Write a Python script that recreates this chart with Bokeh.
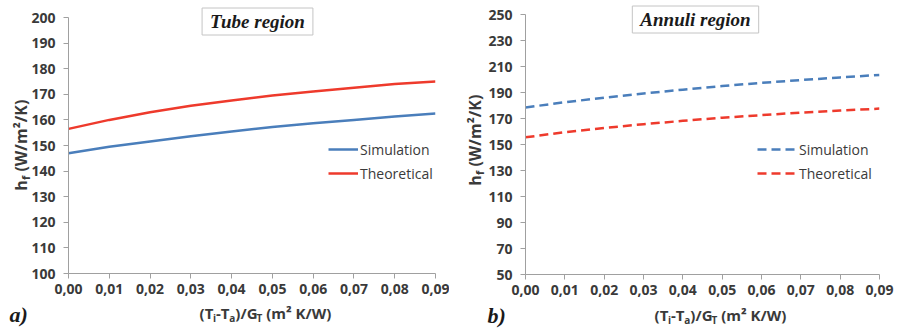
import math
from bokeh.plotting import figure
from bokeh.models import (Range1d, FixedTicker, CustomJSTickFormatter, Label,
                          Legend, LegendItem, GridBox)
from bokeh.embed import file_html
from bokeh.resources import INLINE

# ---------------- data ----------------
x_vals = [0.00, 0.01, 0.02, 0.03, 0.04, 0.05, 0.06, 0.07, 0.08, 0.09]
tube_simulation = [147.0, 149.5, 151.6, 153.6, 155.5, 157.2, 158.7, 160.0, 161.3, 162.5]
tube_theoretical = [156.5, 160.0, 163.0, 165.5, 167.6, 169.5, 171.1, 172.6, 174.0, 175.0]
annuli_simulation = [178.5, 182.5, 186.0, 189.2, 192.2, 195.0, 197.4, 199.6, 201.6, 203.5]
annuli_theoretical = [155.5, 159.5, 162.7, 165.6, 168.2, 170.6, 172.6, 174.5, 176.1, 177.6]
x_ticks = [0.00, 0.01, 0.02, 0.03, 0.04, 0.05, 0.06, 0.07, 0.08, 0.09]
tube_y_ticks = [100, 110, 120, 130, 140, 150, 160, 170, 180, 190, 200]
annuli_y_ticks = [50, 70, 90, 110, 130, 150, 170, 190, 210, 230, 250]
series_names = ["Simulation", "Theoretical"]
panel_titles = ["Tube region", "Annuli region"]
panel_letters = ["a)", "b)"]

BLUE = "#4A7EBB"
RED = "#EE3A2C"
TXT = "#3a3a3a"
AXIS = "#a0a0a0"
CW_TOTAL, CH_TOTAL = 898, 328

# approx Open Sans Bold advance widths (em)
CW = {"(": 0.332, ")": 0.332, "T": 0.568, "-": 0.322, "/": 0.37, "G": 0.713,
      " ": 0.26, "m": 0.928, "K": 0.655, "W": 0.979, "²": 0.36, "i": 0.285,
      "a": 0.604, "f": 0.385, "h": 0.668, "2": 0.572}


def twidth(text, size):
    return sum(CW.get(c, 0.56) for c in text) * size


def place_run(ov, pieces, ccx, ccy, vertical):
    """Place a run of text pieces centred at canvas point (ccx, ccy)."""
    total = sum(twidth(t, s) for t, s, _ in pieces)
    pos = -total / 2.0
    for text, size, shift in pieces:
        lead = len(text) - len(text.lstrip(" "))
        pos += twidth(" " * lead, size)
        body = text.strip(" ")
        if vertical:
            sx, sy = ccx + shift, ccy - pos
        else:
            sx, sy = ccx + pos, ccy + shift
        ov.add_layout(Label(x=sx, y=CH_TOTAL - sy, x_units="screen", y_units="screen",
                            text=body, angle=math.pi / 2 if vertical else 0,
                            text_align="left", text_baseline="middle",
                            text_font="Open Sans", text_font_style="bold",
                            text_font_size=f"{size}px", text_color=TXT))
        pos += twidth(body, size)


def make_panel(sim, theo, yticks, dash, frame, legend_loc, glyph_w):
    L, R, T, B = frame  # canvas coords of the frame inside the panel
    W, H = 449, 328
    p = figure(width=W, height=H, output_backend="svg", toolbar_location=None,
               x_range=Range1d(x_ticks[0], x_ticks[-1]),
               y_range=Range1d(yticks[0], yticks[-1]),
               min_border_left=L, min_border_right=W - R,
               min_border_top=T, min_border_bottom=H - B)
    p.frame_align = False
    p.outline_line_color = None
    p.xgrid.visible = False
    p.ygrid.visible = False
    p.background_fill_color = "white"
    p.border_fill_color = "white"

    for ax in (p.xaxis[0], p.yaxis[0]):
        ax.axis_line_color = AXIS
        ax.major_tick_line_color = AXIS
        ax.major_tick_in = 0
        ax.major_tick_out = 5
        ax.minor_tick_line_color = None
        ax.major_label_text_font = "Open Sans"
        ax.major_label_text_font_style = "bold"
        ax.major_label_text_font_size = "14px"
        ax.major_label_text_color = TXT
    p.xaxis.ticker = FixedTicker(ticks=x_ticks)
    p.xaxis.formatter = CustomJSTickFormatter(
        code="return tick.toFixed(2).replace('.', ',');")
    p.xaxis.major_label_standoff = 5
    p.yaxis.ticker = FixedTicker(ticks=yticks)
    p.yaxis.major_label_standoff = 8

    r1 = p.line(x_vals, sim, line_color=BLUE, line_width=2.5, line_dash=dash)
    r2 = p.line(x_vals, theo, line_color=RED, line_width=2.5, line_dash=dash)

    leg = Legend(items=[LegendItem(label=series_names[0], renderers=[r1]),
                        LegendItem(label=series_names[1], renderers=[r2])],
                 location=legend_loc, glyph_width=glyph_w, glyph_height=20,
                 label_height=20, label_standoff=2, spacing=4, padding=0,
                 margin=0, border_line_color=None, background_fill_alpha=0,
                 label_text_font="Open Sans", label_text_font_size="14px",
                 label_text_color=TXT)
    p.add_layout(leg)
    return p


p1 = make_panel(tube_simulation, tube_theoretical, tube_y_ticks, "solid",
                (68, 435, 17, 273), (260, 90), 30)
p2 = make_panel(annuli_simulation, annuli_theoretical, annuli_y_ticks, "9 5",
                (76, 430, 14, 274), (232, 91), 40)

# transparent overlay for texts that sit outside the plot frames
ov = figure(width=CW_TOTAL, height=CH_TOTAL, output_backend="svg",
            toolbar_location=None, x_axis_type=None, y_axis_type=None,
            x_range=Range1d(0, 1), y_range=Range1d(0, 1),
            min_border_left=0, min_border_right=0, min_border_top=0,
            min_border_bottom=0)
ov.frame_align = False
ov.outline_line_color = None
ov.background_fill_color = None
ov.border_fill_color = None
ov.xgrid.visible = False
ov.ygrid.visible = False

title_centres = [(257, 21), (449 + 246, 19)]
letter_pos = [(9, 314), (449 + 38, 315)]
ylab_centres = [(20, 146), (449 + 25, 141)]
xlab_centres = [(264, 312), (449 + 270, 314)]

for i in range(2):
    tc = title_centres[i]
    ov.add_layout(Label(x=tc[0], y=CH_TOTAL - tc[1], x_units="screen",
                        y_units="screen", text=panel_titles[i], text_align="center",
                        text_baseline="middle", text_font="Liberation Serif",
                        text_font_style="bold italic", text_font_size="19px",
                        text_color="#1a1a1a", border_line_color="#c4c4c4",
                        border_line_width=1, background_fill_color="white",
                        padding=(8, 3)))
    lp = letter_pos[i]
    ov.add_layout(Label(x=lp[0], y=CH_TOTAL - lp[1], x_units="screen",
                        y_units="screen", text=panel_letters[i], text_align="left",
                        text_baseline="middle", text_font="Liberation Serif",
                        text_font_style="bold italic", text_font_size="22px",
                        text_color="#1a1a1a"))
    ylab = [("h", 16, 0), ("f", 11, 5), (" (W/m²/K)", 16, 0)]
    place_run(ov, ylab, ylab_centres[i][0], ylab_centres[i][1], True)
    xlab = [("(T", 15, 0), ("i", 10, 5), ("-T", 15, 0), ("a", 10, 5),
            (")/G", 15, 0), ("T", 10, 5), (" (m² K/W)", 15, 0)]
    place_run(ov, xlab, xlab_centres[i][0], xlab_centres[i][1], False)

layout = GridBox(children=[(p1, 0, 0), (p2, 0, 1), (ov, 0, 0, 1, 2)])
open("out.html", "w").write(file_html(layout, INLINE))
